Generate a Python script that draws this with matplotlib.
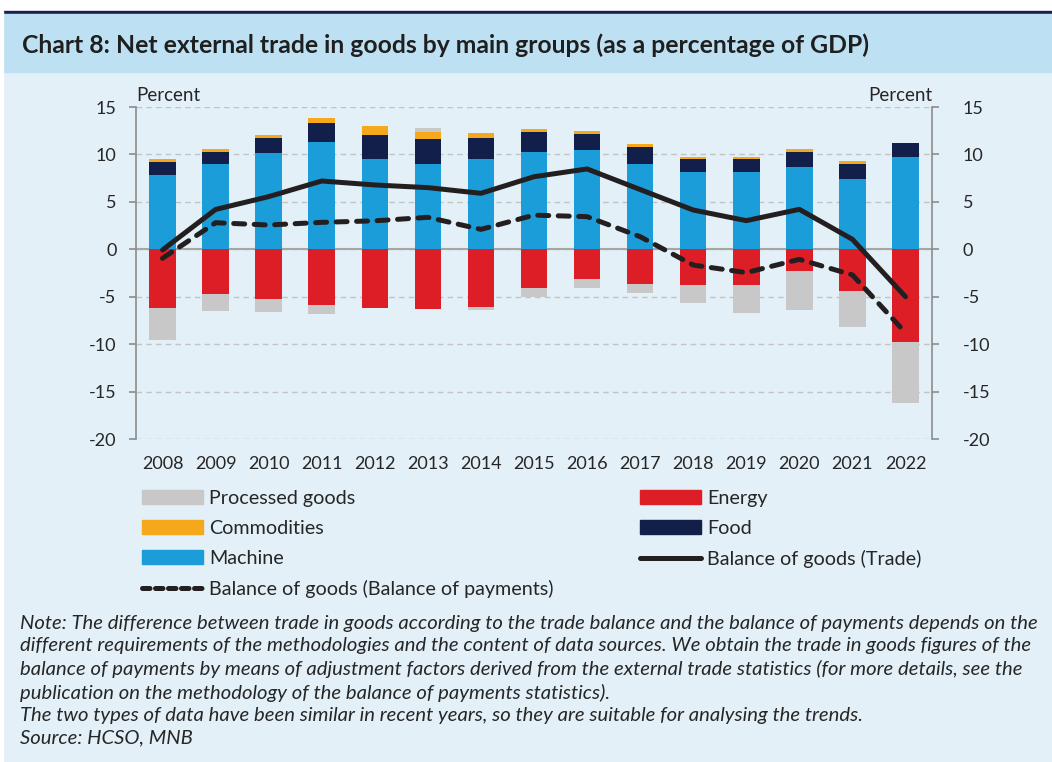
import numpy as np
import matplotlib
matplotlib.use('Agg')
import matplotlib.pyplot as plt
from matplotlib.patches import Rectangle, Patch
from matplotlib.lines import Line2D

plt.rcParams['font.family'] = ['Lato', 'DejaVu Sans']
plt.rcParams['axes.unicode_minus'] = False

years = ['2008', '2009', '2010', '2011', '2012', '2013', '2014', '2015',
         '2016', '2017', '2018', '2019', '2020', '2021', '2022']
machine = [7.83, 8.96, 10.1, 11.28, 9.49, 8.96, 9.52, 10.29, 10.47, 8.99, 8.15, 8.15, 8.71, 7.44, 9.7]
food = [1.41, 1.26, 1.67, 2.07, 2.59, 2.64, 2.25, 2.04, 1.72, 1.83, 1.40, 1.34, 1.58, 1.58, 1.47]
commodities = [0.26, 0.38, 0.33, 0.49, 0.92, 0.73, 0.53, 0.32, 0.31, 0.25, 0.18, 0.21, 0.28, 0.28, 0.0]
energy = [-6.15, -4.7, -5.24, -5.87, -6.19, -6.29, -6.12, -4.05, -3.1, -3.62, -3.8, -3.73, -2.29, -4.43, -9.8]
processed = [-3.41, -1.8, -1.36, -0.95, 0.0, 0.42, -0.24, -0.95, -0.98, -0.95, -1.86, -2.95, -4.11, -3.79, -6.43]
trade = [-0.07, 4.2, 5.55, 7.2, 6.78, 6.5, 5.9, 7.65, 8.47, 6.3, 4.14, 3.02, 4.21, 1.05, -5.0]
bop = [-0.95, 2.8, 2.56, 2.84, 3.0, 3.37, 2.1, 3.6, 3.44, 1.33, -1.66, -2.46, -1.06, -2.7, -8.79]

c_proc = '#C8C8C8'
c_comm = '#F5A81C'
c_mach = '#1B9DD9'
c_food = '#111F4A'
c_ener = '#DE1E26'
c_line = '#231F20'
txt = '#262626'
bg = '#E3F0F7'

fig = plt.figure(figsize=(10.52, 7.62), dpi=100)
fig.patch.set_facecolor(bg)

# header band
fig.add_artist(Rectangle((0, 0.9856), 1, 0.0144, transform=fig.transFigure, color='white', zorder=0))
fig.add_artist(Rectangle((0.003, 0.9816), 0.997, 0.004, transform=fig.transFigure, color='#1A1F4E', zorder=0))
fig.add_artist(Rectangle((0.003, 0.9055), 0.997, 0.0761, transform=fig.transFigure, color='#BDE1F3', zorder=0))
fig.add_artist(Rectangle((0, 0), 0.003, 0.9856, transform=fig.transFigure, color='white', zorder=0))
fig.text(22 / 1052, 0.941, 'Chart 8: Net external trade in goods by main groups (as a percentage of GDP)',
         fontsize=17.8, fontweight='bold', color='#1F1F1F', va='center', ha='left')

ax = fig.add_axes([136 / 1052, 1 - 439 / 762, 796 / 1052, 332 / 762])
ax.set_facecolor(bg)
x = np.arange(len(years))
w = 0.5

machine = np.array(machine)
food = np.array(food)
commodities = np.array(commodities)
energy = np.array(energy)
processed = np.array(processed)

ax.bar(x, machine, w, color=c_mach, zorder=3)
ax.bar(x, food, w, bottom=machine, color=c_food, zorder=3)
ax.bar(x, commodities, w, bottom=machine + food, color=c_comm, zorder=3)
ax.bar(x, energy, w, color=c_ener, zorder=3)
proc_bottom = np.where(processed >= 0, machine + food + commodities, energy)
ax.bar(x, processed, w, bottom=proc_bottom, color=c_proc, zorder=3)

ax.plot(x, trade, color=c_line, lw=3.6, solid_capstyle='round', solid_joinstyle='round', zorder=5)
ax.plot(x, bop, color=c_line, lw=3.6, dashes=(2.2, 1.9), dash_capstyle='round', zorder=5)

ax.set_xlim(-0.5, len(years) - 0.5)
ax.set_ylim(-20, 15)
ax.set_yticks(np.arange(-20, 16, 5))
ax.set_xticks(x)
ax.set_xticklabels(years)
ax.yaxis.grid(True, color='#C3C3C3', linestyle=(0, (4, 3)), lw=1.0, zorder=1)
ax.axhline(0, color='#A6A6A6', lw=1.5, zorder=2)

for s in ['top', 'bottom', 'right']:
    ax.spines[s].set_visible(False)
ax.spines['left'].set_color('#8C8C8C')
ax.spines['left'].set_linewidth(1.2)
ax.tick_params(axis='y', length=5, width=1.2, color='#8C8C8C', labelsize=13, labelcolor=txt, pad=9)
ax.tick_params(axis='x', length=0, labelsize=13, labelcolor=txt, pad=12)

# right-hand axis, same scale
ax2 = ax.twinx()
ax2.set_ylim(ax.get_ylim())
ax2.set_yticks(np.arange(-20, 16, 5))
for s in ['top', 'bottom', 'left']:
    ax2.spines[s].set_visible(False)
ax2.spines['right'].set_color('#8C8C8C')
ax2.spines['right'].set_linewidth(1.2)
ax2.tick_params(axis='y', length=5, width=1.2, color='#8C8C8C', labelsize=13, labelcolor=txt, pad=17)

ax.text(0.0, 1.008, 'Percent', transform=ax.transAxes, fontsize=13.5, color=txt, ha='left', va='bottom')
ax.text(1.0, 1.008, 'Percent', transform=ax.transAxes, fontsize=13.5, color=txt, ha='right', va='bottom')

# legend, two columns
h1 = [Patch(color=c_proc), Patch(color=c_comm), Patch(color=c_mach),
      Line2D([], [], color=c_line, lw=3.6, dashes=(1.5, 1.1), dash_capstyle='round')]
l1 = ['Processed goods', 'Commodities', 'Machine', 'Balance of goods (Balance of payments)']
h2 = [Patch(color=c_ener), Patch(color=c_food),
      Line2D([], [], color=c_line, lw=3.6, solid_capstyle='round')]
l2 = ['Energy', 'Food', 'Balance of goods (Trade)']
kw = dict(frameon=False, fontsize=14.2, handlelength=3.1, handletextpad=0.3, labelspacing=0.66,
          borderpad=0, borderaxespad=0, loc='upper left', labelcolor=txt)
leg1 = fig.legend(h1, l1, bbox_to_anchor=(142 / 1052, 1 - 490 / 762), **kw)
leg2 = fig.legend(h2, l2, bbox_to_anchor=(640 / 1052, 1 - 490 / 762), **kw)

note = ('Note: The difference between trade in goods according to the trade balance and the balance of payments depends on the\n'
        'different requirements of the methodologies and the content of data sources. We obtain the trade in goods figures of the\n'
        'balance of payments by means of adjustment factors derived from the external trade statistics (for more details, see the\n'
        'publication on the methodology of the balance of payments statistics).\n'
        'The two types of data have been similar in recent years, so they are suitable for analysing the trends.\n'
        'Source: HCSO, MNB')
fig.text(20 / 1052, 1 - 615 / 762, note, fontsize=14.6, style='italic', color=txt,
         ha='left', va='top', linespacing=1.37)

fig.savefig('out.png', dpi=100, facecolor=fig.get_facecolor())
